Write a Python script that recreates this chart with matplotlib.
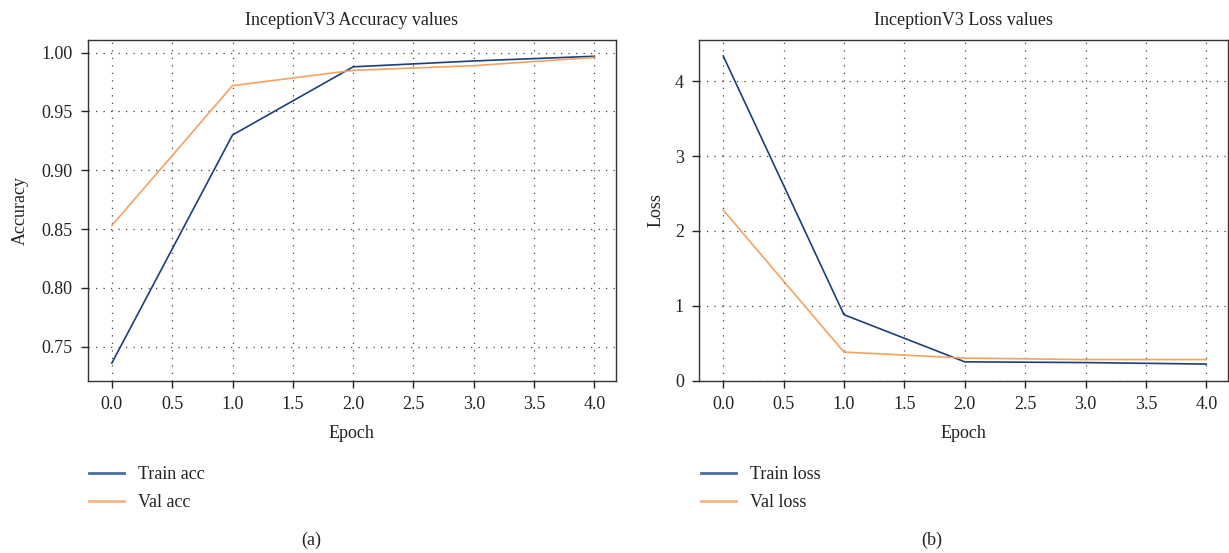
import matplotlib
matplotlib.use("Agg")
import matplotlib.pyplot as plt
from matplotlib.lines import Line2D

plt.rcParams['font.family'] = ['Liberation Serif', 'DejaVu Serif']

epochs = [0, 1, 2, 3, 4]
train_acc = [0.736, 0.930, 0.988, 0.993, 0.997]
val_acc = [0.853, 0.972, 0.985, 0.989, 0.996]
train_loss = [4.34, 0.88, 0.25, 0.24, 0.22]
val_loss = [2.28, 0.38, 0.30, 0.28, 0.28]

x_ticks = [0.0, 0.5, 1.0, 1.5, 2.0, 2.5, 3.0, 3.5, 4.0]
acc_ticks = [0.75, 0.80, 0.85, 0.90, 0.95, 1.00]
loss_ticks = [0, 1, 2, 3, 4]

c_train = '#1a3f7a'
c_val = '#f4a262'
c_train_leg = '#4a70a0'
c_val_leg = '#f6b48a'
tc = '#222222'

fig = plt.figure(figsize=(12.29, 5.53), dpi=100)
ax1 = fig.add_axes([0.0714, 0.3119, 0.4299, 0.6157])
ax2 = fig.add_axes([0.5688, 0.3119, 0.4304, 0.6157])

fs = 13

def style(ax):
    for s in ['top', 'right', 'left', 'bottom']:
        ax.spines[s].set_linewidth(1.0)
        ax.spines[s].set_color('#333333')
    ax.grid(True, linestyle=(0, (1, 5)), color='#444444', linewidth=0.9)
    ax.tick_params(axis='both', direction='out', length=5, width=1, labelsize=fs, colors=tc)
    ax.tick_params(axis='x', pad=6.5)
    ax.tick_params(axis='y', pad=6)
    ax.set_xticks(x_ticks)
    ax.set_xticklabels([f'{t:.1f}' for t in x_ticks])
    ax.set_xlim(-0.2, 4.18)
    ax.set_xlabel('Epoch', fontsize=fs, color=tc, labelpad=8)

ax1.plot(epochs, train_acc, color=c_train, lw=1.2)
ax1.plot(epochs, val_acc, color=c_val, lw=1.2)
style(ax1)
ax1.set_yticks(acc_ticks)
ax1.set_yticklabels([f'{t:.2f}' for t in acc_ticks])
ax1.set_ylim(0.7211, 1.0108)
ax1.set_ylabel('Accuracy', fontsize=fs, color=tc)
ax1.yaxis.set_label_coords(-0.112, 0.5)
ax1.set_title('InceptionV3 Accuracy values', fontsize=fs, color=tc, pad=11)

ax2.plot(epochs, train_loss, color=c_train, lw=1.2)
ax2.plot(epochs, val_loss, color=c_val, lw=1.2)
style(ax2)
ax2.set_yticks(loss_ticks)
ax2.set_ylim(0, 4.553)
ax2.set_ylabel('Loss', fontsize=fs, color=tc)
ax2.yaxis.set_label_coords(-0.065, 0.5)
ax2.set_title('InceptionV3 Loss values', fontsize=fs, color=tc, pad=11)

h1 = [Line2D([], [], color=c_train_leg, lw=2), Line2D([], [], color=c_val_leg, lw=2)]
fig.legend(h1, ['Train acc', 'Val acc'], loc='upper left', bbox_to_anchor=(0.0667, 0.170),
           frameon=False, fontsize=fs, handlelength=1.9, labelspacing=0.62, borderaxespad=0,
           labelcolor=tc)
fig.legend(h1, ['Train loss', 'Val loss'], loc='upper left', bbox_to_anchor=(0.5647, 0.170),
           frameon=False, fontsize=fs, handlelength=1.9, labelspacing=0.62, borderaxespad=0,
           labelcolor=tc)
fig.text(311 / 1229, 0.0235, '(a)', fontsize=fs, color=tc, ha='center', va='center')
fig.text(932 / 1229, 0.0235, '(b)', fontsize=fs, color=tc, ha='center', va='center')

fig.savefig('out.png', dpi=100)
